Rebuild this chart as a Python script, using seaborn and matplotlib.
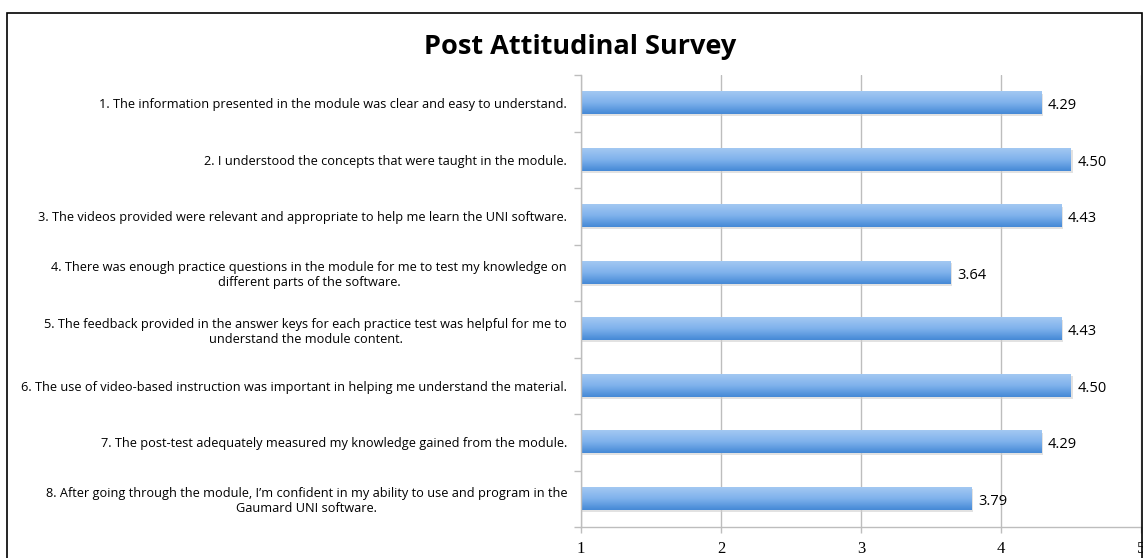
import numpy as np
import pandas as pd
import matplotlib
matplotlib.use("Agg")
import matplotlib.pyplot as plt
import seaborn as sns
from matplotlib.patches import Rectangle
from matplotlib.colors import LinearSegmentedColormap

questions = [
    "1. The information presented in the module was clear and easy to understand.",
    "2. I understood the concepts that were taught in the module.",
    "3. The videos provided were relevant and appropriate to help me learn the UNI software.",
    "4. There was enough practice questions in the module for me to test my knowledge on\ndifferent parts of the software.",
    "5. The feedback provided in the answer keys for each practice test was helpful for me to\nunderstand the module content.",
    "6. The use of video-based instruction was important in helping me understand the material.",
    "7. The post-test adequately measured my knowledge gained from the module.",
    "8. After going through the module, I\u2019m confident in my ability to use and program in the\nGaumard UNI software.",
]
scores = [4.29, 4.50, 4.43, 3.64, 4.43, 4.50, 4.29, 3.79]
x_ticks = [1, 2, 3, 4, 5]
title = "Post Attitudinal Survey"

df = pd.DataFrame({"question": questions, "score": scores})

sns.set_theme(style="white")
plt.rcParams["font.family"] = ["Open Sans", "DejaVu Sans"]
plt.rcParams["text.color"] = "black"

fig = plt.figure(figsize=(11.43, 5.58), dpi=100)
W, H = 1143, 558
ax = fig.add_axes([581 / W, 1 - 527 / H, (1141 - 581) / W, (527 - 75) / H])

sns.barplot(data=df, y="question", x="score", orient="h", ax=ax,
            color="#6fa6e6", width=0.39, saturation=1, edgecolor="none")

xmin, xmax = x_ticks[0], x_ticks[-1]
ax.set_xlim(xmin, xmax)
ax.set_ylim(len(questions) - 0.5, -0.5)

# gradient fill on the bars
cmap = LinearSegmentedColormap.from_list("bar", ["#a3c8f2", "#7fb2ec", "#4589d6"])
grad = np.linspace(0, 1, 64).reshape(-1, 1)
for p in list(ax.patches):
    x0, y0 = p.get_x(), p.get_y()
    w, h = p.get_width(), p.get_height()
    left = max(x0, xmin)
    # subtle shadow
    ax.add_patch(Rectangle((left, y0 + h * 0.08), x0 + w - left + 0.012, h, facecolor="#cfcfcf",
                           edgecolor="none", alpha=0.6, zorder=p.get_zorder() - 0.1))
    ax.imshow(grad, cmap=cmap, aspect="auto", extent=(left, x0 + w, y0 + h, y0),
              zorder=p.get_zorder() + 0.1, interpolation="bicubic")
ax.set_xlim(xmin, xmax)
ax.set_ylim(len(questions) - 0.5, -0.5)

for i, v in enumerate(scores):
    ax.text(v + 0.045, i + 0.04, f"{v:.2f}", va="center", ha="left", fontsize=10.5, color="black")

# grid and spines
ax.set_xticks(x_ticks)
ax.set_xticklabels([str(t) for t in x_ticks], fontfamily="Liberation Serif", fontsize=12,
                   color="black")
ax.xaxis.grid(True, color="#bdbdbd", linewidth=1)
ax.set_axisbelow(True)
for s in ["top", "right"]:
    ax.spines[s].set_visible(False)
for s in ["left", "bottom"]:
    ax.spines[s].set_color("#bdbdbd")
    ax.spines[s].set_linewidth(1)
ax.tick_params(axis="x", length=4, color="#bdbdbd", width=1, bottom=True, pad=6)

ax.set_yticks(range(len(questions)))
ax.set_yticklabels(questions, fontsize=9.2, multialignment="center", color="black")
ax.tick_params(axis="y", length=0, pad=10)
ax.set_yticks(np.arange(-0.5, len(questions), 1), minor=True)
ax.tick_params(axis="y", which="minor", length=5, color="#bdbdbd", width=1, left=True)
ax.set_xlabel("")
ax.set_ylabel("")

fig.text(580 / W, 1 - 47 / H, title, ha="center", va="center", fontsize=19.5,
         fontweight="bold", color="black")

# outer frame
fig.patches.append(Rectangle((7 / W, -0.1), (1142 - 7) / W, 1.1 - 13 / H,
                             transform=fig.transFigure, fill=False, edgecolor="black",
                             linewidth=1.2))

fig.savefig("out.png", dpi=100)
